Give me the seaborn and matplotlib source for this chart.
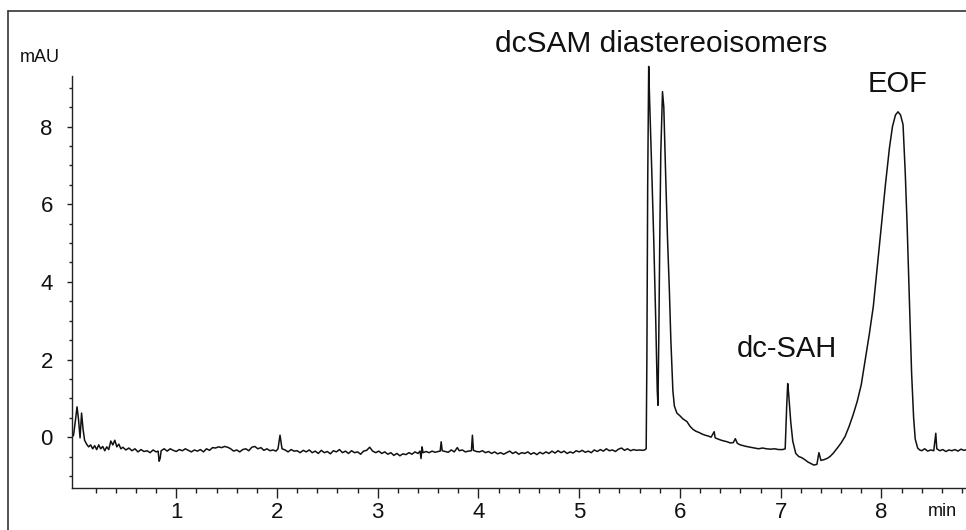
import matplotlib
matplotlib.use("Agg")
import matplotlib.pyplot as plt
from matplotlib.lines import Line2D
from matplotlib.ticker import FixedLocator
import numpy as np
import pandas as pd
import seaborn as sns

# ---- data ----
t_start = [-0.035, -0.02, 0.0, 0.015, 0.03, 0.045, 0.06, 0.075, 0.09, 0.11, 0.13, 0.15, 0.17, 0.19,
           0.21, 0.23, 0.25, 0.27, 0.29, 0.31, 0.33, 0.35, 0.37, 0.39, 0.41, 0.43, 0.45, 0.47]
y_start = [0.0, 0.05, 0.45, 0.78, 0.45, -0.02, 0.62, 0.2, -0.08, -0.18, -0.25, -0.2, -0.3, -0.22,
           -0.32, -0.2, -0.3, -0.24, -0.35, -0.25, -0.32, -0.1, -0.2, -0.08, -0.25, -0.18, -0.3, -0.26]

t_base1 = [0.5, 0.53, 0.56, 0.59, 0.62, 0.65, 0.68, 0.71, 0.74, 0.77, 0.8, 0.82, 0.83, 0.84, 0.85,
           0.88, 0.91, 0.94, 0.97, 1.0, 1.03, 1.06, 1.09, 1.12, 1.15, 1.18, 1.21, 1.24, 1.27, 1.3,
           1.33, 1.36, 1.39, 1.42, 1.45, 1.48, 1.51, 1.54, 1.57, 1.6, 1.63, 1.66, 1.69, 1.72, 1.75,
           1.78, 1.81, 1.84, 1.87, 1.9, 1.93, 1.96, 1.99, 2.01, 2.03, 2.05]
y_base1 = [-0.33, -0.28, -0.35, -0.3, -0.38, -0.32, -0.37, -0.35, -0.4, -0.33, -0.38, -0.36, -0.62,
           -0.55, -0.35, -0.3, -0.36, -0.3, -0.34, -0.37, -0.32, -0.35, -0.3, -0.34, -0.38, -0.33,
           -0.36, -0.32, -0.38, -0.3, -0.34, -0.27, -0.28, -0.25, -0.27, -0.24, -0.26, -0.3, -0.36,
           -0.33, -0.38, -0.32, -0.3, -0.35, -0.26, -0.24, -0.3, -0.27, -0.34, -0.3, -0.35, -0.33,
           -0.36, -0.3, 0.05, -0.3]

t_base2 = [2.08, 2.11, 2.14, 2.17, 2.2, 2.23, 2.26, 2.29, 2.32, 2.35, 2.38, 2.41, 2.44, 2.47, 2.5,
           2.53, 2.56, 2.59, 2.62, 2.65, 2.68, 2.71, 2.74, 2.77, 2.8, 2.83, 2.86, 2.89, 2.92, 2.95,
           2.98, 3.01, 3.04, 3.07, 3.1, 3.13, 3.16, 3.19, 3.22, 3.25, 3.28, 3.31, 3.34, 3.37, 3.4,
           3.42, 3.43, 3.44, 3.45, 3.48, 3.51, 3.54, 3.57, 3.6, 3.62, 3.63, 3.64, 3.67, 3.7, 3.73,
           3.76, 3.79, 3.81, 3.84, 3.87, 3.9, 3.93, 3.94, 3.95, 3.98]
y_base2 = [-0.33, -0.38, -0.32, -0.36, -0.35, -0.4, -0.34, -0.38, -0.33, -0.4, -0.36, -0.42, -0.34,
           -0.4, -0.37, -0.43, -0.35, -0.38, -0.32, -0.4, -0.36, -0.42, -0.35, -0.4, -0.38, -0.44,
           -0.36, -0.34, -0.26, -0.36, -0.4, -0.36, -0.42, -0.38, -0.44, -0.4, -0.47, -0.42, -0.48,
           -0.43, -0.45, -0.4, -0.44, -0.38, -0.42, -0.36, -0.55, -0.25, -0.4, -0.37, -0.4, -0.36,
           -0.39, -0.37, -0.36, -0.12, -0.35, -0.37, -0.39, -0.33, -0.38, -0.27, -0.35, -0.33, -0.38,
           -0.36, -0.35, 0.05, -0.34, -0.37]

t_base3 = [4.01, 4.04, 4.07, 4.1, 4.13, 4.16, 4.19, 4.22, 4.25, 4.28, 4.31, 4.34, 4.37, 4.4, 4.43,
           4.46, 4.49, 4.52, 4.55, 4.58, 4.61, 4.64, 4.67, 4.7, 4.73, 4.76, 4.79, 4.82, 4.85, 4.88,
           4.91, 4.94, 4.97, 5.0, 5.03, 5.06, 5.09, 5.12, 5.15, 5.18, 5.21, 5.24, 5.27, 5.3, 5.33,
           5.36, 5.39, 5.42, 5.45, 5.48, 5.51, 5.54, 5.57, 5.6, 5.63, 5.65]
y_base3 = [-0.38, -0.35, -0.4, -0.37, -0.42, -0.38, -0.43, -0.4, -0.44, -0.4, -0.36, -0.42, -0.38,
           -0.44, -0.4, -0.42, -0.38, -0.44, -0.4, -0.45, -0.39, -0.43, -0.38, -0.42, -0.36, -0.41,
           -0.35, -0.4, -0.36, -0.42, -0.38, -0.41, -0.35, -0.38, -0.34, -0.39, -0.36, -0.4, -0.33,
           -0.37, -0.32, -0.36, -0.3, -0.35, -0.33, -0.37, -0.31, -0.28, -0.34, -0.3, -0.35, -0.32,
           -0.34, -0.33, -0.34, -0.33]

t_dcsam = [5.665, 5.672, 5.68, 5.69, 5.70, 5.72, 5.74, 5.76, 5.775, 5.782, 5.79, 5.80, 5.81, 5.827,
           5.84, 5.86, 5.877, 5.895, 5.91, 5.93, 5.945, 5.97, 6.0, 6.03, 6.07, 6.1, 6.13, 6.16, 6.19,
           6.22, 6.25, 6.28, 6.31, 6.34, 6.35, 6.38, 6.41, 6.44, 6.47, 6.5, 6.53, 6.55, 6.57, 6.6,
           6.63, 6.66, 6.7, 6.74, 6.78, 6.82, 6.86, 6.9, 6.94, 6.98, 7.02]
y_dcsam = [-0.3, 2.0, 6.5, 9.55, 8.6, 6.9, 5.1, 3.0, 1.2, 0.82, 2.5, 5.1, 7.3, 8.9,
           8.5, 6.6, 5.1, 3.8, 2.5, 1.2, 0.8, 0.62, 0.55, 0.47, 0.4, 0.28, 0.2, 0.15, 0.12,
           0.08, 0.05, 0.03, 0.0, 0.14, -0.02, -0.05, -0.08, -0.1, -0.12, -0.15, -0.14, -0.04,
           -0.16, -0.2, -0.22, -0.24, -0.26, -0.28, -0.3, -0.28, -0.3, -0.31, -0.3, -0.32, -0.32]

t_dcsah = [7.045, 7.06, 7.07, 7.08, 7.1, 7.12, 7.15, 7.18, 7.21, 7.24, 7.27, 7.3, 7.33, 7.36, 7.38,
           7.4, 7.43, 7.46, 7.49, 7.52]
y_dcsah = [-0.3, 0.8, 1.38, 1.1, 0.4, -0.1, -0.42, -0.5, -0.53, -0.58, -0.64, -0.68, -0.72, -0.7,
           -0.4, -0.6, -0.58, -0.55, -0.5, -0.42]

t_eof = [7.56, 7.6, 7.64, 7.68, 7.72, 7.76, 7.8, 7.84, 7.88, 7.92, 7.96, 8.0, 8.04, 8.08, 8.11,
         8.14, 8.165, 8.19, 8.215, 8.237, 8.255, 8.27, 8.30, 8.32, 8.336, 8.36, 8.38, 8.4, 8.43,
         8.46, 8.49, 8.52, 8.54, 8.55, 8.58, 8.61, 8.64, 8.67, 8.7, 8.73, 8.76, 8.79, 8.82, 8.85]
y_eof = [-0.29, -0.15, 0.02, 0.28, 0.58, 0.92, 1.35, 2.0, 2.65, 3.37, 4.4, 5.45, 6.5, 7.45, 8.0,
         8.3, 8.38, 8.3, 8.05, 6.8, 5.5, 4.2, 1.65, 0.5, -0.05, -0.28, -0.33, -0.35, -0.3,
         -0.36, -0.33, -0.35, 0.1, -0.3, -0.35, -0.32, -0.37, -0.33, -0.35, -0.32, -0.36, -0.31,
         -0.34, -0.32]

y_major_ticks = [0, 2, 4, 6, 8]
x_major_ticks = [1, 2, 3, 4, 5, 6, 7, 8]

peak_labels = ["dcSAM diastereoisomers", "dc-SAH", "EOF"]

# ---- build frame ----
df = pd.DataFrame({
    "time": t_start + t_base1 + t_base2 + t_base3 + t_dcsam + t_dcsah + t_eof,
    "mAU": y_start + y_base1 + y_base2 + y_base3 + y_dcsam + y_dcsah + y_eof,
})

sns.set_theme(style="ticks")
plt.rcParams["font.family"] = ["Liberation Sans", "DejaVu Sans"]

W, H = 966, 530
fig = plt.figure(figsize=(W / 100, H / 100), dpi=100)
fig.patch.set_facecolor("white")

ax_left, ax_bottom_px, ax_top_px = 72, 488, 40
ax = fig.add_axes([ax_left / W, (H - ax_bottom_px) / H, (W - ax_left) / W,
                   (ax_bottom_px - ax_top_px) / H])

sns.lineplot(data=df, x="time", y="mAU", ax=ax, color="#111111", linewidth=1.1,
             estimator=None, sort=False)

ax.set_xlim(-0.035, 8.84)
ax.set_ylim(-1.31, 10.23)
ax.spines["top"].set_visible(False)
ax.spines["right"].set_visible(False)
for s in ("left", "bottom"):
    ax.spines[s].set_color("#222222")
    ax.spines[s].set_linewidth(1.0)
ax.spines["left"].set_bounds(-1.31, 9.3)

ax.set_xticks(x_major_ticks)
ax.set_xticklabels([str(v) for v in x_major_ticks])
ax.xaxis.set_minor_locator(FixedLocator([v / 5 for v in range(1, 45) if v % 5 != 0]))
ax.set_yticks(y_major_ticks)
ax.set_yticklabels([str(v) for v in y_major_ticks])
ax.yaxis.set_minor_locator(FixedLocator([v / 2 for v in range(-2, 19) if v % 4 != 0]))

ax.tick_params(axis="x", which="major", direction="out", length=7, width=1.0,
               color="#222222", labelsize=16, pad=3, labelcolor="#111111")
ax.tick_params(axis="x", which="minor", direction="out", length=3.8, width=1.0, color="#222222")
ax.tick_params(axis="y", which="major", direction="out", length=3.8, width=1.0,
               color="#222222", labelsize=16, pad=10, labelcolor="#111111")
ax.tick_params(axis="y", which="minor", direction="out", length=2.5, width=1.0, color="#222222")

ax.set_xlabel("")
ax.set_ylabel("")
ax.grid(False)

# peak labels
ax.text(5.81, 9.92, peak_labels[0], ha="center", va="baseline", fontsize=21.5, color="#111111")
ax.text(7.06, 2.06, peak_labels[1], ha="center", va="baseline", fontsize=21, color="#111111")
ax.text(8.157, 8.89, peak_labels[2], ha="center", va="baseline", fontsize=21, color="#111111")

# axis unit labels
fig.text(40 / W, 1 - 57 / H, "mAU", ha="center", va="center", fontsize=13, color="#111111")
fig.text(942 / W, 1 - 511 / H, "min", ha="center", va="center", fontsize=13, color="#111111")

# outer frame (left and top edges)
fx, fy = 8 / W, 1 - 11 / H
fig.add_artist(Line2D([fx, fx], [0, fy], transform=fig.transFigure, color="#333333", linewidth=1.2))
fig.add_artist(Line2D([fx, 1], [fy, fy], transform=fig.transFigure, color="#333333", linewidth=1.2))

fig.savefig("out.png", dpi=100, facecolor="white")
